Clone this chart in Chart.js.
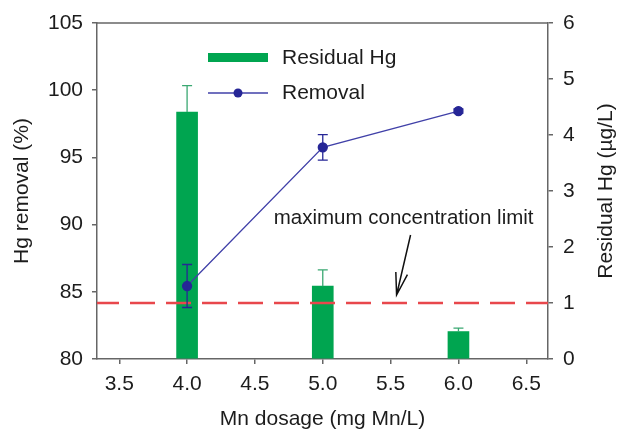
<!DOCTYPE html>
<html>
<head>
<meta charset="utf-8">
<script src="https://cdn.jsdelivr.net/npm/chart.js@4/dist/chart.umd.min.js"></script>
<style>
  html, body { margin: 0; padding: 0; background: #fff; }
  #wrap { width: 617px; height: 429px; }
</style>
</head>
<body>
<div id="wrap"><canvas id="chart" width="617" height="429"></canvas></div>
<script>
// data
const dosage = [4.0, 5.0, 6.0];
const residualHg = [4.41, 1.30, 0.49];      // µg/L, right axis
const residualErr = [0.47, 0.29, 0.06];
const removal = [85.43, 95.75, 98.45];      // %, left axis
const removalErr = [1.6, 0.95, 0.15];
const mcl = 1.0;                            // maximum concentration limit, µg/L

const xTicks = [3.5, 4.0, 4.5, 5.0, 5.5, 6.0, 6.5];
const leftTicks = [80, 85, 90, 95, 100, 105];
const rightTicks = [0, 1, 2, 3, 4, 5, 6];

const FONT = '"Liberation Sans", Arial, sans-serif';
const TXT = '#1c1c1c';
const AX = '#666';
const GREEN = '#00a550';
const GREEN_ERR = '#3aa872';
const BLUE = '#4040a8';
const BLUE_PT = '#262696';
const RED = '#e8474c';

const toTicks = arr => arr.map(v => ({ value: v }));

function errBars(ctx, xs, ys, errs, xScale, yScale, color, upOnly) {
  ctx.save();
  ctx.strokeStyle = color;
  ctx.lineWidth = 1.3;
  xs.forEach((xv, i) => {
    const x = xScale.getPixelForValue(xv);
    const yTop = yScale.getPixelForValue(ys[i] + errs[i]);
    const yBot = yScale.getPixelForValue(upOnly ? ys[i] : ys[i] - errs[i]);
    ctx.beginPath();
    ctx.moveTo(x, yTop); ctx.lineTo(x, yBot);
    ctx.moveTo(x - 5, yTop); ctx.lineTo(x + 5, yTop);
    if (!upOnly) { ctx.moveTo(x - 5, yBot); ctx.lineTo(x + 5, yBot); }
    ctx.stroke();
  });
  ctx.restore();
}

const extras = {
  id: 'extras',
  afterDatasetDraw(chart, args) {
    const { ctx, chartArea: a, scales } = chart;
    if (args.index !== 0) return;
    // bar error bars
    errBars(ctx, dosage, residualHg, residualErr, scales.x, scales.yR, GREEN_ERR, true);
    // MCL dashed line
    const y = scales.yR.getPixelForValue(mcl);
    ctx.save();
    ctx.strokeStyle = RED;
    ctx.lineWidth = 2.5;
    ctx.setLineDash([25, 11]);
    ctx.lineDashOffset = 3;
    ctx.beginPath();
    ctx.moveTo(a.left, y); ctx.lineTo(a.right, y);
    ctx.stroke();
    ctx.restore();
  },
  afterDatasetsDraw(chart) {
    const { ctx, chartArea: a, scales } = chart;
    errBars(ctx, dosage, removal, removalErr, scales.x, scales.yL, BLUE_PT, false);

    ctx.save();
    // top frame
    ctx.strokeStyle = AX;
    ctx.lineWidth = 1.5;
    ctx.beginPath();
    ctx.moveTo(a.left, a.top); ctx.lineTo(a.right, a.top);
    ctx.stroke();

    // legend
    ctx.fillStyle = GREEN;
    ctx.fillRect(a.left + 111, a.top + 30, 60, 9);
    ctx.strokeStyle = BLUE;
    ctx.lineWidth = 1.3;
    ctx.beginPath();
    ctx.moveTo(a.left + 111, a.top + 70); ctx.lineTo(a.left + 171, a.top + 70);
    ctx.stroke();
    ctx.fillStyle = BLUE_PT;
    ctx.beginPath();
    ctx.arc(a.left + 141, a.top + 70, 4.5, 0, Math.PI * 2);
    ctx.fill();
    ctx.fillStyle = TXT;
    ctx.font = '21px ' + FONT;
    ctx.textAlign = 'left';
    ctx.textBaseline = 'middle';
    ctx.fillText('Residual Hg', a.left + 185, a.top + 35);
    ctx.fillText('Removal', a.left + 185, a.top + 70);

    // annotation
    const xs = scales.x, yr = scales.yR;
    ctx.font = '20.5px ' + FONT;
    ctx.textAlign = 'center';
    ctx.fillText('maximum concentration limit', xs.getPixelForValue(5.596), yr.getPixelForValue(2.52));
    const tx = xs.getPixelForValue(5.544), ty = yr.getPixelForValue(1.143);
    const sx = xs.getPixelForValue(5.647), sy = yr.getPixelForValue(2.214);
    ctx.strokeStyle = '#111';
    ctx.lineWidth = 1.5;
    ctx.beginPath();
    ctx.moveTo(sx, sy); ctx.lineTo(tx, ty);
    const ang = Math.atan2(sy - ty, sx - tx);
    const h = 23, spread = 15 * Math.PI / 180;
    ctx.moveTo(tx + h * Math.cos(ang - spread), ty + h * Math.sin(ang - spread));
    ctx.lineTo(tx, ty);
    ctx.lineTo(tx + h * Math.cos(ang + spread), ty + h * Math.sin(ang + spread));
    ctx.stroke();

    // right axis title, reading bottom to top
    ctx.translate(606, (a.top + a.bottom) / 2);
    ctx.rotate(-Math.PI / 2);
    ctx.font = '21px ' + FONT;
    ctx.textAlign = 'center';
    ctx.fillText('Residual Hg (\u00b5g/L)', 0, 0);
    ctx.restore();
  }
};

const axisGrid = { drawOnChartArea: false, drawTicks: true, tickLength: 5, color: AX, lineWidth: 1.5 };
const axisBorder = { color: AX, width: 1.5 };

new Chart(document.getElementById('chart'), {
  type: 'bar',
  data: {
    datasets: [
      {
        type: 'bar',
        label: 'Residual Hg',
        data: dosage.map((x, i) => ({ x, y: residualHg[i] })),
        backgroundColor: GREEN,
        barThickness: 21,
        yAxisID: 'yR',
        order: 2
      },
      {
        type: 'line',
        label: 'Removal',
        data: dosage.map((x, i) => ({ x, y: removal[i] })),
        borderColor: BLUE,
        borderWidth: 1.3,
        pointBackgroundColor: BLUE_PT,
        pointBorderColor: BLUE_PT,
        pointRadius: 4.5,
        tension: 0,
        yAxisID: 'yL',
        order: 1
      }
    ]
  },
  options: {
    responsive: false,
    animation: false,
    events: [],
    layout: { padding: { top: 23, left: 0, right: 0, bottom: 0 } },
    plugins: { legend: { display: false }, tooltip: { enabled: false } },
    scales: {
      x: {
        type: 'linear',
        offset: false,
        min: 3.336,
        max: 6.66,
        afterBuildTicks: s => { s.ticks = toTicks(xTicks); },
        afterFit: s => { s.height = 70; },
        grid: { ...axisGrid, offset: false },
        border: axisBorder,
        ticks: { color: TXT, font: { family: FONT, size: 21 }, padding: 8, callback: v => v.toFixed(1) },
        title: { display: true, text: 'Mn dosage (mg Mn/L)', color: TXT, font: { family: FONT, size: 21 }, padding: { top: 0, bottom: -3 } }
      },
      yL: {
        type: 'linear',
        position: 'left',
        min: 80,
        max: 105,
        afterBuildTicks: s => { s.ticks = toTicks(leftTicks); },
        afterFit: s => { s.width = 97; },
        grid: axisGrid,
        border: axisBorder,
        ticks: { color: TXT, font: { family: FONT, size: 21 }, padding: 9 },
        title: { display: true, text: 'Hg removal (%)', color: TXT, font: { family: FONT, size: 21 }, padding: { top: 10, bottom: 0 } }
      },
      yR: {
        type: 'linear',
        position: 'right',
        min: 0,
        max: 6,
        afterBuildTicks: s => { s.ticks = toTicks(rightTicks); },
        afterFit: s => { s.width = 69; },
        grid: axisGrid,
        border: axisBorder,
        ticks: { color: TXT, font: { family: FONT, size: 21 }, padding: 10 }
      }
    }
  },
  plugins: [extras]
});
</script>
</body>
</html>
